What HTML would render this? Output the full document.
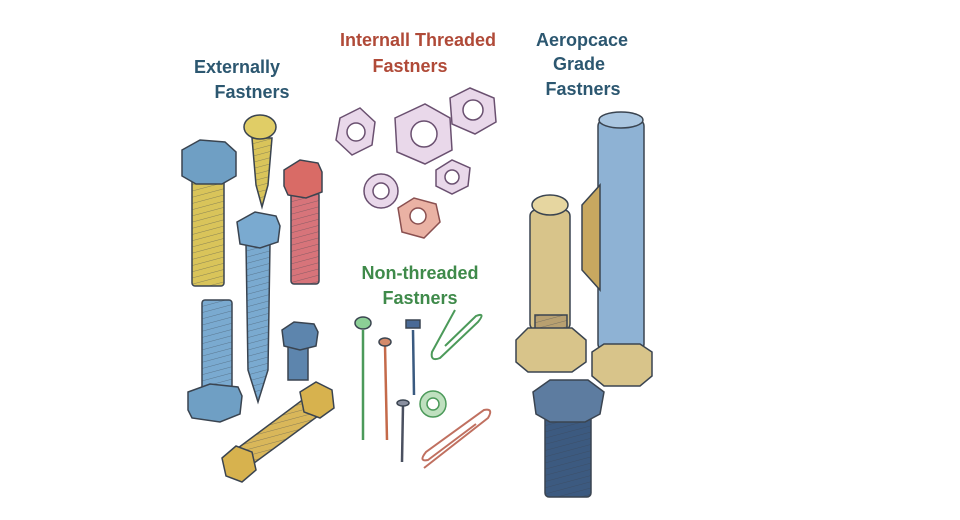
<!DOCTYPE html>
<html><head><style>
html,body{margin:0;padding:0;background:#fff;width:960px;height:520px;overflow:hidden}
svg{display:block}
text{font-family:"Liberation Sans",sans-serif;font-size:18px;font-weight:bold;}
</style></head><body>
<svg width="960" height="520" viewBox="0 0 960 520" xmlns="http://www.w3.org/2000/svg">
<defs>
<pattern id="th" width="6" height="6" patternUnits="userSpaceOnUse" patternTransform="rotate(-15)">
<line x1="0" y1="0" x2="6" y2="0" stroke="#3a4450" stroke-width="1" opacity="0.5"/>
</pattern>
</defs>
<g stroke="#3a4450" stroke-width="1.5">
<g stroke="none">
<text x="237" y="73" fill="#2c5770" text-anchor="middle">Externally</text>
<text x="252" y="98" fill="#2c5770" text-anchor="middle">Fastners</text>
<text x="418" y="46" fill="#b04a38" text-anchor="middle">Internall Threaded</text>
<text x="410" y="72" fill="#b04a38" text-anchor="middle">Fastners</text>
<text x="582" y="46" fill="#2c5770" text-anchor="middle">Aeropcace</text>
<text x="579" y="70" fill="#2c5770" text-anchor="middle">Grade</text>
<text x="583" y="95" fill="#2c5770" text-anchor="middle">Fastners</text>
<text x="420" y="279" fill="#3f8a4a" text-anchor="middle">Non-threaded</text>
<text x="420" y="304" fill="#3f8a4a" text-anchor="middle">Fastners</text>
</g>
<rect x="192" y="178" width="32" height="108" rx="3" fill="#d9c45a"/>
<rect x="192" y="178" width="32" height="108" fill="url(#th)" stroke="none"/>
<polygon points="182,150 200,140 225,142 236,152 236,176 222,184 196,184 182,176" fill="#6f9fc4"/>
<polygon points="252,138 272,138 268,185 262,207 256,185" fill="#d9c45a"/>
<polygon points="252,138 272,138 268,185 262,207 256,185" fill="url(#th)" stroke="none"/>
<ellipse cx="260" cy="127" rx="16" ry="12" fill="#e0cd66"/>
<rect x="291" y="192" width="28" height="92" rx="3" fill="#d7747a"/>
<rect x="291" y="192" width="28" height="92" fill="url(#th)" stroke="none"/>
<polygon points="284,170 300,160 318,163 322,172 322,192 306,198 288,195 284,186" fill="#d96b66"/>
<polygon points="246,244 270,244 268,370 258,402 248,370" fill="#7aaad0"/>
<polygon points="246,244 270,244 268,370 258,402 248,370" fill="url(#th)" stroke="none"/>
<polygon points="237,222 255,212 276,216 280,226 278,242 260,248 240,244" fill="#7aaad0"/>
<rect x="202" y="300" width="30" height="90" rx="3" fill="#7aaad0"/>
<rect x="202" y="300" width="30" height="90" fill="url(#th)" stroke="none"/>
<polygon points="188,392 210,384 238,387 242,396 240,414 220,422 192,418 188,410" fill="#6f9fc4"/>
<rect x="288" y="340" width="20" height="40" fill="#5d85ad"/>
<polygon points="282,330 294,322 314,324 318,332 316,346 300,350 284,346" fill="#5d85ad"/>
<polygon points="238,448 305,398 318,416 250,466" fill="#d9b75a"/>
<polygon points="238,448 305,398 318,416 250,466" fill="url(#th)" stroke="none"/>
<polygon points="222,458 236,446 252,452 256,470 242,482 226,476" fill="#d7b24e"/>
<polygon points="300,392 316,382 332,390 334,408 320,418 304,412" fill="#d7b24e"/>
<g fill="#e9d8ea" stroke="#6a5070">
<polygon points="340,118 360,108 375,122 372,145 352,155 336,140"/>
<circle cx="356" cy="132" r="9" fill="#fff"/>
<polygon points="395,118 425,104 450,118 452,150 425,164 397,152"/>
<circle cx="424" cy="134" r="13" fill="#fff"/>
<polygon points="450,98 470,88 494,98 496,122 475,134 452,124"/>
<circle cx="473" cy="110" r="10" fill="#fff"/>
<polygon points="436,170 452,160 470,168 468,186 452,194 436,186"/>
<circle cx="452" cy="177" r="7" fill="#fff"/>
<circle cx="381" cy="191" r="17"/><circle cx="381" cy="191" r="8" fill="#fff"/>
</g>
<polygon points="398,208 414,198 436,204 440,222 424,238 402,232" fill="#eab2a4" stroke="#8a5050"/>
<circle cx="418" cy="216" r="8" fill="#fff" stroke="#8a5050"/>
<g fill="none" stroke-width="2.5">
<path d="M363 330 L363 440" stroke="#4c9a5a"/>
<path d="M385 345 L387 440" stroke="#c46a4a"/>
<path d="M413 330 L414 395" stroke="#3a5a80"/>
<path d="M403 405 L402 462" stroke="#4a5060"/>
<path d="M455 310 L432 352 Q430 362 440 358 L478 322 Q486 312 476 316 L445 346" stroke="#4c9a5a" stroke-width="2"/>
<path d="M424 468 L488 418 Q494 408 484 410 L426 452 Q418 462 428 460 L476 424" stroke="#c07060" stroke-width="2"/>
</g>
<ellipse cx="363" cy="323" rx="8" ry="6" fill="#8ccf96"/>
<ellipse cx="385" cy="342" rx="6" ry="4" fill="#d48a6a"/>
<rect x="406" y="320" width="14" height="8" fill="#4a6a96"/>
<ellipse cx="403" cy="403" rx="6" ry="3" fill="#8a90a0"/>
<circle cx="433" cy="404" r="13" fill="#bfe0bf" stroke="#4c9a5a"/><circle cx="433" cy="404" r="6" fill="#fff" stroke="#4c9a5a"/>
<rect x="530" y="210" width="40" height="120" rx="6" fill="#d8c48a"/>
<ellipse cx="550" cy="205" rx="18" ry="10" fill="#e6d6a0"/>
<rect x="535" y="315" width="32" height="25" fill="#b8a070"/>
<rect x="535" y="315" width="32" height="25" fill="url(#th)" stroke="none"/>
<polygon points="516,340 528,328 572,328 586,340 586,362 572,372 528,372 516,362" fill="#d8c48a"/>
<rect x="598" y="120" width="46" height="230" rx="6" fill="#8eb2d4"/>
<polygon points="582,205 600,185 600,290 582,270" fill="#c8a860"/>
<ellipse cx="621" cy="120" rx="22" ry="8" fill="#aac6e0"/>
<polygon points="592,352 604,344 640,344 652,352 652,376 640,386 604,386 592,376" fill="#d8c48a"/>
<rect x="545" y="412" width="46" height="85" rx="4" fill="#3c5a80"/>
<rect x="545" y="412" width="46" height="85" fill="url(#th)" stroke="none"/>
<polygon points="533,392 550,380 588,380 604,392 600,414 585,422 550,422 536,414" fill="#5d7ca0"/>
</g>
</svg>
</body></html>
